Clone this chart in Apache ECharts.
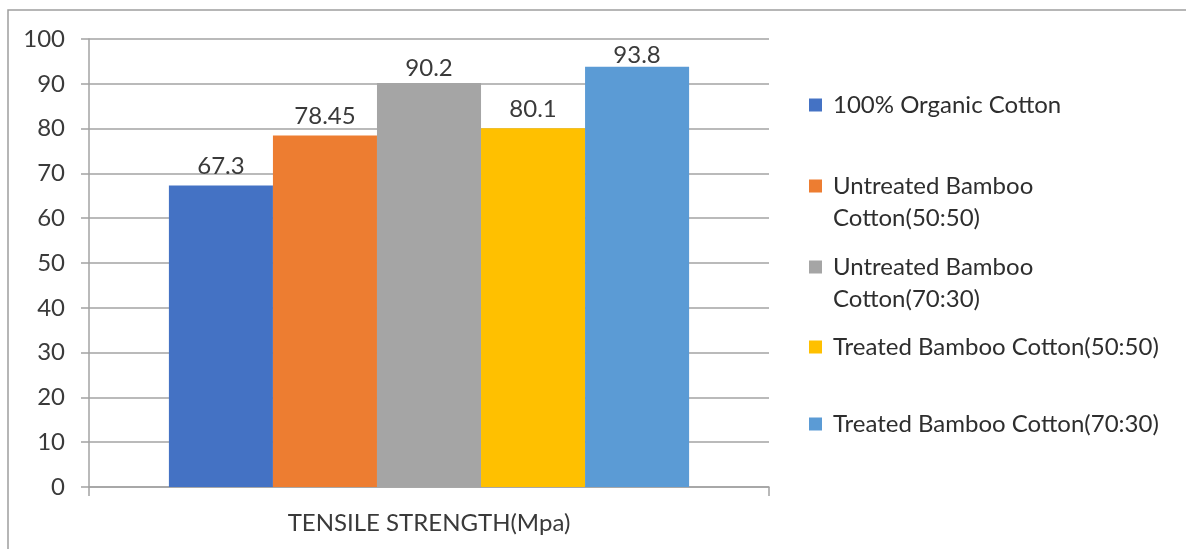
<!DOCTYPE html>
<html>
<head>
<meta charset="utf-8">
<style>
  html, body { margin: 0; padding: 0; background: #fff; }
  #chart { width: 1186px; height: 549px; }
</style>
<script src="https://cdn.jsdelivr.net/npm/echarts@6/dist/echarts.min.js"></script>
</head>
<body>
<div id="chart"></div>
<script>
// Tensile strength of cotton / bamboo-cotton fabrics
const categories = ['TENSILE STRENGTH(Mpa)'];
const seriesNames = [
  '100% Organic Cotton',
  'Untreated Bamboo Cotton(50:50)',
  'Untreated Bamboo Cotton(70:30)',
  'Treated Bamboo Cotton(50:50)',
  'Treated Bamboo Cotton(70:30)'
];
// legend text as it wraps in the side panel
const legendLabels = [
  '100% Organic Cotton',
  'Untreated Bamboo\nCotton(50:50)',
  'Untreated Bamboo\nCotton(70:30)',
  'Treated Bamboo Cotton(50:50)',
  'Treated Bamboo Cotton(70:30)'
];
const values = [67.3, 78.45, 90.2, 80.1, 93.8];
const colors = ['#4472C4', '#ED7D31', '#A5A5A5', '#FFC000', '#5B9BD5'];
const yMin = 0, yMax = 100, yStep = 10;

const FONT = 'Lato, "Open Sans", sans-serif';
const TEXT = '#3a3a3a';
const LINE = '#a3a3a3';

// vertical position of each legend entry (first text line centre)
const legendRows = [105, 186, 267, 347, 424];
const LINE_H = 32;
const SQ = 13;
// square marker pinned to the top of a taller icon box, so it sits beside
// the first line of a two-line entry
const topSquareIcon = 'path://M0,0L' + SQ + ',0L' + SQ + ',' + SQ + 'L0,' + SQ + 'Z' +
  'M0,' + (SQ + LINE_H) + 'L0.01,' + (SQ + LINE_H) + 'L0,' + (SQ + LINE_H - 0.01) + 'Z';

const chart = echarts.init(document.getElementById('chart'), null, { renderer: 'canvas' });

const legends = seriesNames.map((name, i) => {
  const wrapped = legendLabels[i].indexOf('\n') >= 0;
  return {
    data: [name],
    orient: 'vertical',
    left: 809,
    top: legendRows[i] - LINE_H / 2,
    padding: 0,
    itemWidth: SQ,
    itemHeight: wrapped ? SQ + LINE_H : SQ,
    icon: wrapped ? topSquareIcon : 'rect',
    selectedMode: false,
    formatter: () => legendLabels[i],
    textStyle: {
      fontFamily: FONT,
      fontSize: 24,
      color: '#2e2e2e',
      lineHeight: LINE_H,
      padding: [0, 0, 0, 6]
    }
  };
});

// label distances above bar tops
const labelDist = [7, 7, 3, 7, 0];

const series = seriesNames.map((name, i) => ({
  name: name,
  type: 'bar',
  data: [values[i]],
  barGap: '0%',
  barCategoryGap: '23.5%',
  itemStyle: { color: colors[i] },
  label: {
    show: true,
    position: 'top',
    distance: labelDist[i],
    fontFamily: FONT,
    fontSize: 24,
    color: TEXT
  }
}));

chart.setOption({
  animation: false,
  backgroundColor: '#ffffff',
  color: colors,
  grid: { left: 89, right: 417, top: 39, bottom: 62 },
  legend: legends,
  xAxis: {
    type: 'category',
    data: categories,
    axisLine: { show: true, lineStyle: { color: LINE, width: 1.5 } },
    axisTick: { show: true, length: 9, lineStyle: { color: LINE, width: 1.5 } },
    axisLabel: { fontFamily: FONT, fontSize: 24, color: TEXT, margin: 24 }
  },
  yAxis: {
    type: 'value',
    min: yMin,
    max: yMax,
    interval: yStep,
    axisLine: { show: true, lineStyle: { color: LINE, width: 1.5 } },
    axisTick: { show: true, length: 8, lineStyle: { color: LINE, width: 1.5 } },
    splitLine: { show: true, lineStyle: { color: LINE, width: 1.5 } },
    axisLabel: { fontFamily: FONT, fontSize: 24, color: TEXT, margin: 24 }
  },
  series: series,
  graphic: [
    {
      type: 'polyline',
      shape: { points: [[8, 549], [8, 10], [1186, 10]] },
      style: { stroke: '#9e9e9e', lineWidth: 1.5, fill: null },
      silent: true
    }
  ]
});
</script>
</body>
</html>
